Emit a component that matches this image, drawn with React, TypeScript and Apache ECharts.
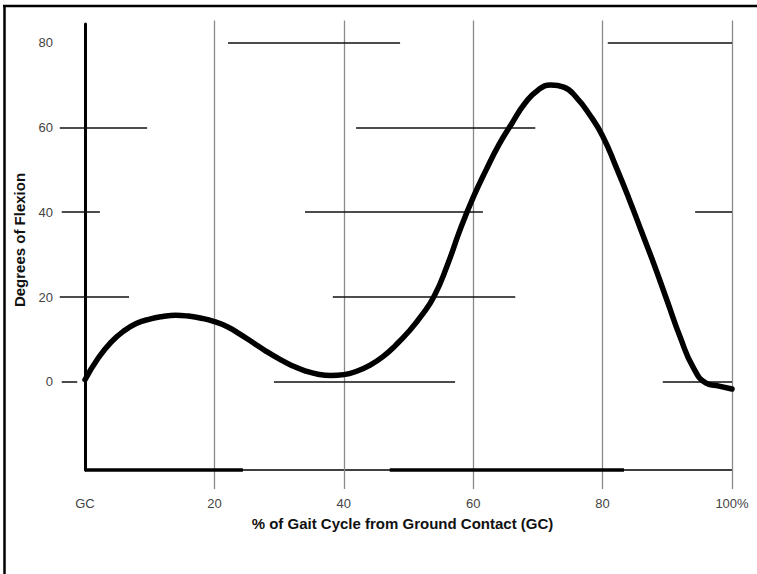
import React, { useEffect, useRef } from "react";
import * as echarts from "echarts";

// Axis ticks
const xTickValues = [0, 20, 40, 60, 80, 100];
const yTickValues = [0, 20, 40, 60, 80];
const verticalRuleX = [20, 40, 60, 80, 100];

// Knee flexion curve (% gait cycle, degrees)
const curveX = [0, 2, 4, 6, 8, 10, 12, 14, 16, 18, 20, 22, 24, 26, 28, 30, 32, 34, 36, 38, 40, 42, 44, 46, 48, 50, 52, 54, 56, 58, 60, 62, 64, 66, 68, 70, 72, 74, 76, 78, 80, 82, 84, 86, 88, 90, 92, 94, 96, 98, 100];
const curveY = [0.5, 5.5, 9.3, 12, 13.8, 14.8, 15.4, 15.7, 15.5, 15, 14.2, 13, 11.2, 9.2, 7.2, 5.4, 3.8, 2.6, 1.8, 1.5, 1.7, 2.5, 3.9, 5.9, 8.6, 11.8, 15.6, 20.3, 27.5, 36, 43.5, 50, 56, 61, 65.7, 68.8, 70, 69.5, 67, 63, 58, 51, 43.5, 35.5, 27.5, 19, 10.5, 3.4, -0.3, -1, -1.7];

// Broken horizontal rules (level in degrees, start/end in % gait cycle)
const ruleLevels = [80, 80, 60, 60, 40, 40, 40, 20, 20, 0, 0, 0];
const ruleStarts = [22.1, 80.8, -3.9, 41.9, -3.6, 34, 94.3, -3.9, 38.3, -3.6, 29.2, 89.3];
const ruleEnds = [48.7, 100, 9.6, 69.6, 2.3, 61.5, 100, 6.8, 66.5, -1.2, 57.2, 100];

// Thick parts of the baseline
const baseThickStarts = [0, 47.1];
const baseThickEnds = [24.4, 83.3];

const Y_MIN = -20.8;
const Y_MAX = 84.4;
const Y_NAME = "Degrees of Flexion";
const X_NAME = "% of Gait Cycle from Ground Contact (GC)";

export default function App() {
  const ref = useRef<HTMLDivElement>(null);
  useEffect(() => {
    document.body.style.margin = "0";
    if (!ref.current) return;
    const chart = echarts.init(ref.current, undefined, { renderer: "svg" });
    const font = "'Liberation Sans', Arial, sans-serif";
    const hRules = ruleLevels.map((lv, i) => ({ coords: [[ruleStarts[i], lv], [ruleEnds[i], lv]] }));
    const vRules = verticalRuleX.map((x) => ({ coords: [[x, -25.3], [x, 85.2]] }));
    const baseThick = baseThickStarts.map((s, i) => ({ coords: [[s, Y_MIN], [baseThickEnds[i], Y_MIN]] }));
    chart.setOption({
      animation: false,
      backgroundColor: "#ffffff",
      grid: { left: 85, right: 25, top: 24, bottom: 104, outerBoundsMode: "none" },
      xAxis: {
        type: "value",
        min: 0,
        max: 100,
        interval: 20,
        name: X_NAME,
        nameLocation: "middle",
        nameGap: 46,
        nameTextStyle: { fontFamily: font, fontSize: 15, fontWeight: "bold", color: "#111", padding: [0, 12, 0, 0] },
        axisLine: { show: true, onZero: false, lineStyle: { color: "#000", width: 1.5 } },
        axisTick: { show: false },
        splitLine: { show: false },
        axisLabel: {
          customValues: xTickValues,
          margin: 27,
          fontFamily: font,
          fontSize: 13,
          color: "#444",
          formatter: (v: number) => (v === 0 ? "GC" : v === 100 ? "100%" : String(v)),
        },
      },
      yAxis: {
        type: "value",
        min: Y_MIN,
        max: Y_MAX,
        axisLine: { show: true, onZero: false, lineStyle: { color: "#000", width: 3 } },
        axisTick: { show: false },
        splitLine: { show: false },
        axisLabel: {
          customValues: yTickValues,
          margin: 32,
          fontFamily: font,
          fontSize: 13,
          color: "#444",
        },
      },
      graphic: [
        { type: "line", shape: { x1: 3, y1: 6, x2: 757, y2: 6 }, style: { stroke: "#000", lineWidth: 2.5 } },
        { type: "line", shape: { x1: 4.5, y1: 5, x2: 4.5, y2: 574 }, style: { stroke: "#000", lineWidth: 2.5 } },
        {
          type: "text",
          x: 19,
          y: 240,
          rotation: Math.PI / 2,
          style: {
            text: Y_NAME,
            fontFamily: font,
            fontSize: 15,
            fontWeight: "bold",
            fill: "#111",
            align: "center",
            verticalAlign: "middle",
          },
        },
      ],
      series: [
        {
          type: "lines",
          coordinateSystem: "cartesian2d",
          clip: false,
          silent: true,
          lineStyle: { color: "#8a8a8a", width: 1.3, opacity: 1 },
          data: vRules,
        },
        {
          type: "lines",
          coordinateSystem: "cartesian2d",
          clip: false,
          silent: true,
          lineStyle: { color: "#111", width: 1.5, opacity: 1 },
          data: hRules,
        },
        {
          type: "lines",
          coordinateSystem: "cartesian2d",
          clip: false,
          silent: true,
          lineStyle: { color: "#000", width: 3.5, opacity: 1 },
          data: baseThick,
        },
        {
          type: "line",
          data: curveX.map((x, i) => [x, curveY[i]]),
          smooth: 0.5,
          showSymbol: false,
          symbol: "none",
          clip: false,
          lineStyle: { color: "#000", width: 5.5, join: "round", cap: "round" },
        },
      ],
    });
    return () => chart.dispose();
  }, []);
  return <div ref={ref} style={{ position: "absolute", left: 0, top: 0, width: 757, height: 574 }} />;
}
